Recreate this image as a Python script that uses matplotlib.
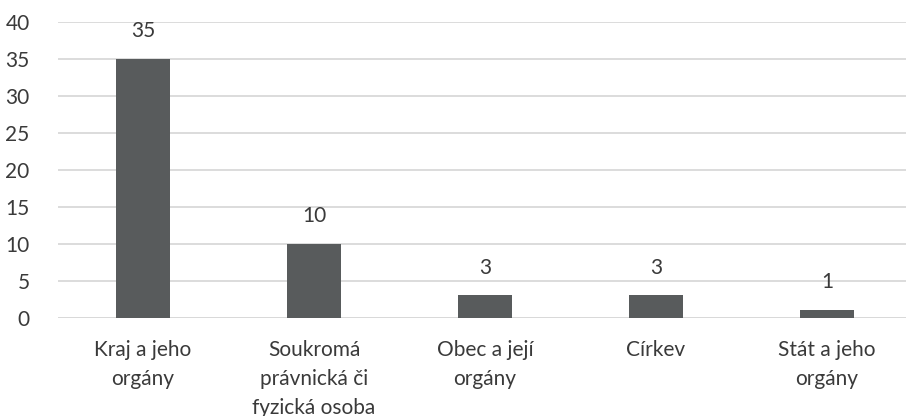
import matplotlib
matplotlib.use("Agg")
import matplotlib.pyplot as plt

categories = ["Kraj a jeho\norgány", "Soukromá\nprávnická či\nfyzická osoba", "Obec a její\norgány", "Církev", "Stát a jeho\norgány"]
values = [35, 10, 3, 3, 1]
yticks = [0, 5, 10, 15, 20, 25, 30, 35, 40]

plt.rcParams['font.family'] = ['Lato', 'DejaVu Sans']
text_color = '#3a3a3a'

W, H = 906, 416
fig = plt.figure(figsize=(W/100, H/100), dpi=100)
left, right = 57.5/W, 912.5/W
top, bottom = 21.7/H, 317.5/H
ax = fig.add_axes([left, 1-bottom, right-left, bottom-top])

x = list(range(len(categories)))
bars = ax.bar(x, values, width=0.31, color='#585b5c', zorder=3)
ax.set_xlim(-0.5, len(categories)-0.5)
ax.set_ylim(0, 40)
ax.set_yticks(yticks)
ax.set_xticks(x)
ax.set_xticklabels(categories, fontsize=15, color=text_color, linespacing=1.56, va='top')
ax.tick_params(axis='x', length=0, pad=16)
ax.tick_params(axis='y', length=0, pad=20, labelsize=15, labelcolor=text_color)
ax.grid(axis='y', color='#d9d9d9', linewidth=1.3, zorder=0)
ax.set_axisbelow(True)
for s in ax.spines.values():
    s.set_visible(False)
ax.axhline(0, color='#d9d9d9', linewidth=1.3, zorder=1)

for xi, v in zip(x, values):
    ax.annotate(str(v), (xi, v), xytext=(0, 20), textcoords='offset points',
                ha='center', va='center', fontsize=15, color=text_color)

fig.savefig('out.png', dpi=100)
